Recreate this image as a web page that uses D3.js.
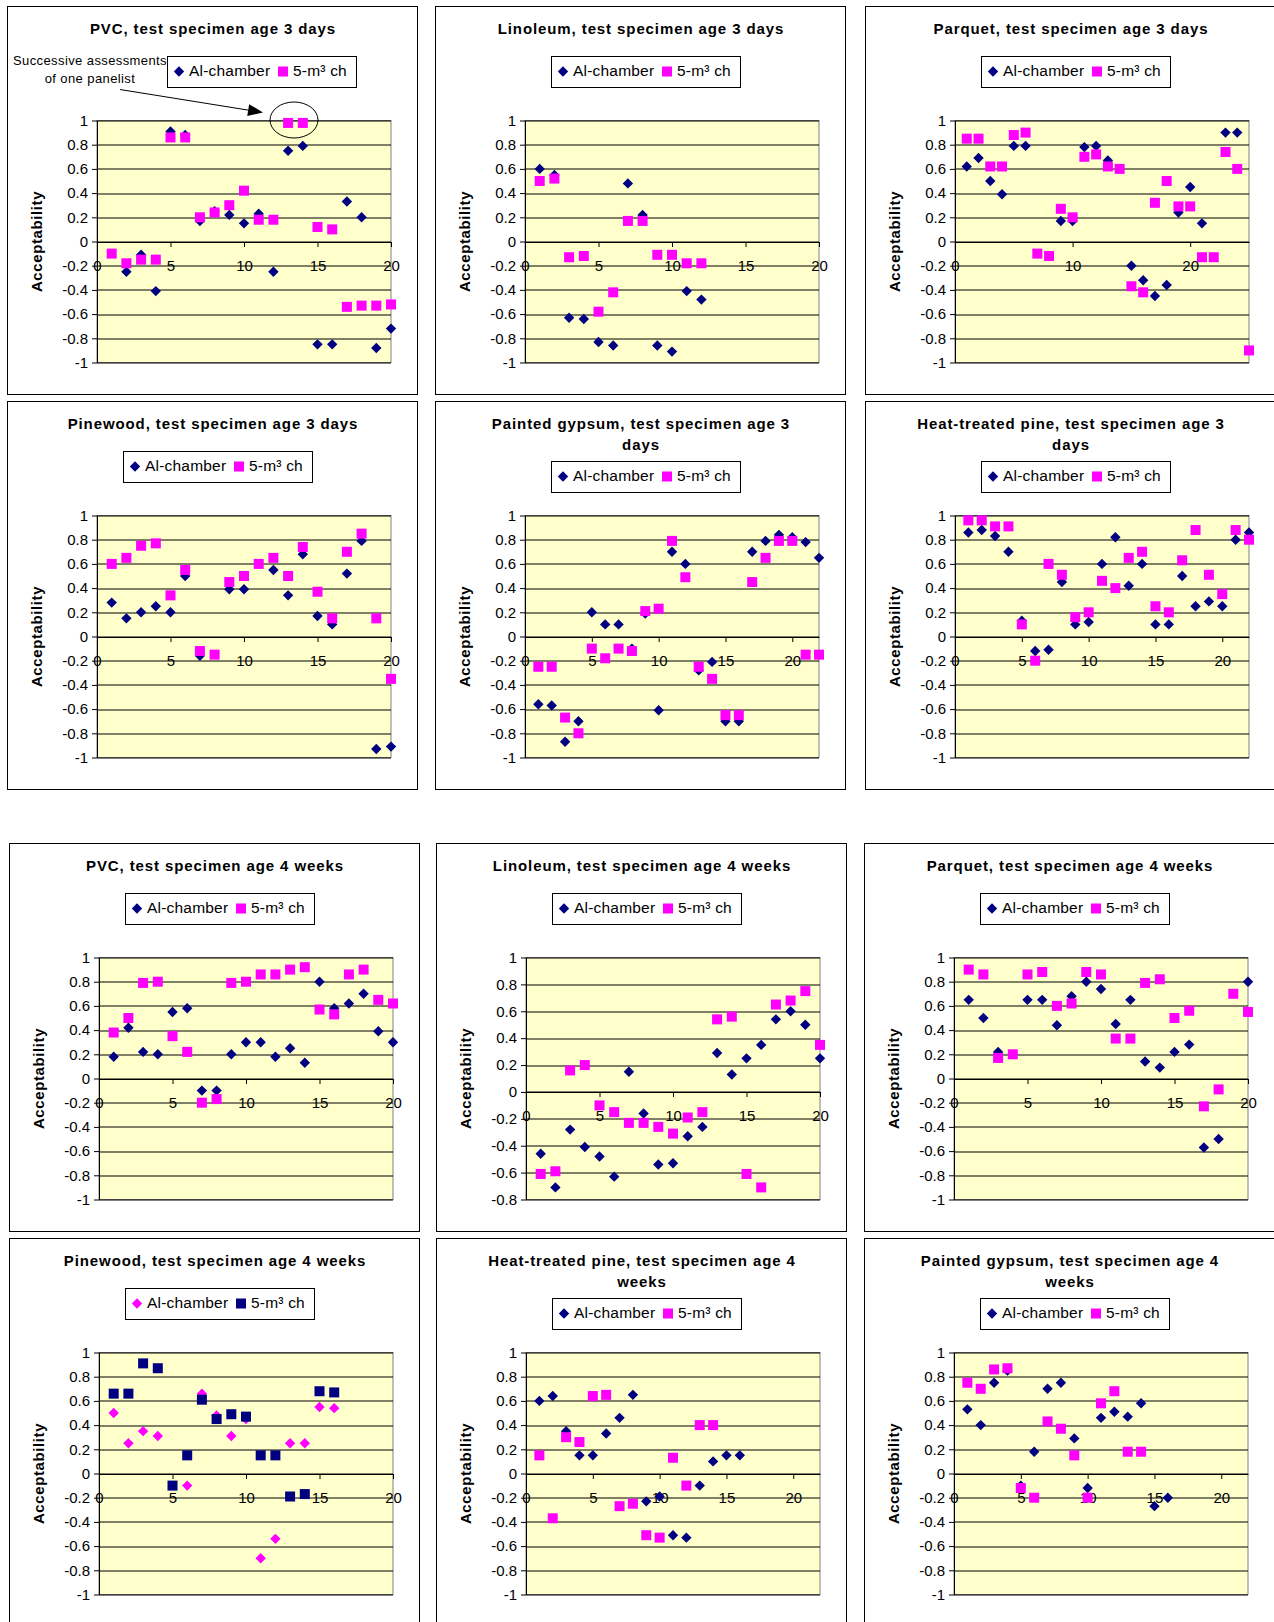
<!DOCTYPE html>
<html>
<head>
<meta charset="utf-8">
<script src="https://cdn.jsdelivr.net/npm/d3@7"></script>
<style>
  body { margin: 0; background: #fff; }
  svg { display: block; font-family: "Liberation Sans", Arial, sans-serif; }
</style>
</head>
<body>
<div id="chart"></div>
<script>
// Acceptability by panelist, two chambers, 12 small scatter charts

const seriesNames = ['Al-chamber', '5-m\u00b3 ch'];

// x ticks / y ticks
const xTicksA = [0, 5, 10, 15, 20];
const xTicksB = [0, 10, 20];
const yTicksFull = [-1, -0.8, -0.6, -0.4, -0.2, 0, 0.2, 0.4, 0.6, 0.8, 1];
const yTicksLino = [-0.8, -0.6, -0.4, -0.2, 0, 0.2, 0.4, 0.6, 0.8, 1];

// values per panelist (index 0 = panelist 1), null = not shown
const pvc3dAl = [null, -0.25, -0.11, -0.41, 0.91, 0.88, 0.17, 0.25, 0.22, 0.15, 0.23, -0.25, 0.75, 0.79, -0.85, -0.85, 0.33, 0.20, -0.88, -0.72];
const pvc3dCh = [-0.10, -0.18, -0.15, -0.15, 0.86, 0.86, 0.20, 0.24, 0.30, 0.42, 0.18, 0.18, 0.98, 0.98, 0.12, 0.10, -0.54, -0.53, -0.53, -0.52];

const lin3dAl = [0.60, 0.55, -0.63, -0.64, -0.83, -0.86, 0.48, 0.22, -0.86, -0.91, -0.41, -0.48];
const lin3dCh = [0.50, 0.52, -0.13, -0.12, -0.58, -0.42, 0.17, 0.17, -0.11, -0.11, -0.18, -0.18];

const par3dAl = [0.62, 0.69, 0.50, 0.39, 0.79, 0.79, null, null, 0.17, 0.17, 0.78, 0.79, 0.67, null, -0.20, -0.32, -0.45, -0.36, 0.24, 0.45, 0.15, null, 0.90, 0.90, null];
const par3dCh = [0.85, 0.85, 0.62, 0.62, 0.88, 0.90, -0.10, -0.12, 0.27, 0.20, 0.70, 0.72, 0.62, 0.60, -0.37, -0.42, 0.32, 0.50, 0.29, 0.29, -0.13, -0.13, 0.74, 0.60, -0.90];

const pine3dAl = [0.28, 0.15, 0.20, 0.25, 0.20, 0.50, -0.16, null, 0.39, 0.39, null, 0.55, 0.34, 0.68, 0.17, 0.10, 0.52, 0.79, -0.93, -0.91];
const pine3dCh = [0.60, 0.65, 0.75, 0.77, 0.34, 0.55, -0.12, -0.15, 0.45, 0.50, 0.60, 0.65, 0.50, 0.74, 0.37, 0.15, 0.70, 0.85, 0.15, -0.35];

const gyp3dAl = [-0.56, -0.57, -0.87, -0.70, 0.20, 0.10, 0.10, -0.10, 0.19, -0.61, 0.70, 0.60, -0.28, -0.21, -0.70, -0.70, 0.70, 0.79, 0.84, 0.82, 0.78, 0.65];
const gyp3dCh = [-0.25, -0.25, -0.67, -0.80, -0.10, -0.18, -0.10, -0.12, 0.21, 0.23, 0.79, 0.49, -0.25, -0.35, -0.65, -0.65, 0.45, 0.65, 0.79, 0.79, -0.15, -0.15];

const htp3dAl = [0.86, 0.88, 0.83, 0.70, 0.13, -0.12, -0.11, 0.45, 0.10, 0.12, 0.60, 0.82, 0.42, 0.60, 0.10, 0.10, 0.50, 0.25, 0.29, 0.25, 0.80, 0.86];
const htp3dCh = [0.96, 0.96, 0.91, 0.91, 0.10, -0.20, 0.60, 0.51, 0.16, 0.20, 0.46, 0.40, 0.65, 0.70, 0.25, 0.20, 0.63, 0.88, 0.51, 0.35, 0.88, 0.80];

const pvc4wAl = [0.18, 0.42, 0.22, 0.20, 0.55, 0.58, -0.10, -0.10, 0.20, 0.30, 0.30, 0.18, 0.25, 0.13, 0.80, 0.58, 0.62, 0.70, 0.39, 0.30];
const pvc4wCh = [0.38, 0.50, 0.79, 0.80, 0.35, 0.22, -0.20, -0.17, 0.79, 0.80, 0.86, 0.86, 0.90, 0.92, 0.57, 0.53, 0.86, 0.90, 0.65, 0.62];

const lin4wAl = [-0.46, -0.71, -0.28, -0.41, -0.48, -0.63, 0.15, -0.16, -0.54, -0.53, -0.33, -0.26, 0.29, 0.13, 0.25, 0.35, 0.54, 0.60, 0.50, 0.25];
const lin4wCh = [-0.61, -0.59, 0.16, 0.20, -0.10, -0.15, -0.23, -0.23, -0.26, -0.31, -0.19, -0.15, 0.54, 0.56, -0.61, -0.71, 0.65, 0.68, 0.75, 0.35];

const par4wAl = [0.65, 0.50, 0.22, null, 0.65, 0.65, 0.44, 0.68, 0.80, 0.74, 0.45, 0.65, 0.14, 0.09, 0.22, 0.28, -0.57, -0.50, null, 0.80];
const par4wCh = [0.90, 0.86, 0.17, 0.20, 0.86, 0.88, 0.60, 0.62, 0.88, 0.86, 0.33, 0.33, 0.79, 0.82, 0.50, 0.56, -0.23, -0.09, 0.70, 0.55];

const pine4wAl = [0.50, 0.25, 0.35, 0.31, null, -0.10, 0.66, 0.48, 0.31, 0.45, -0.70, -0.54, 0.25, 0.25, 0.55, 0.54];
const pine4wCh = [0.66, 0.66, 0.91, 0.87, -0.10, 0.15, 0.61, 0.45, 0.49, 0.47, 0.15, 0.15, -0.19, -0.17, 0.68, 0.67];

const htp4wAl = [0.60, 0.64, 0.35, 0.15, 0.15, 0.33, 0.46, 0.65, -0.23, -0.19, -0.51, -0.53, -0.10, 0.10, 0.15, 0.15];
const htp4wCh = [0.15, -0.37, 0.30, 0.26, 0.64, 0.65, -0.27, -0.25, -0.51, -0.53, 0.13, -0.10, 0.40, 0.40];

const gyp4wAl = [0.53, 0.40, 0.75, 0.85, -0.10, 0.18, 0.70, 0.75, 0.29, -0.12, 0.46, 0.51, 0.47, 0.58, -0.27, -0.20];
const gyp4wCh = [0.75, 0.70, 0.86, 0.87, -0.12, -0.20, 0.43, 0.37, 0.15, -0.20, 0.58, 0.68, 0.18, 0.18];

const panels = [
  { title: ['PVC, test specimen age 3 days'], al: pvc3dAl, ch: pvc3dCh, xMax: 20, xTicks: xTicksA, yTicks: yTicksFull, note: true },
  { title: ['Linoleum, test specimen age 3 days'], al: lin3dAl, ch: lin3dCh, xMax: 20, xTicks: xTicksA, yTicks: yTicksFull },
  { title: ['Parquet, test specimen age 3 days'], al: par3dAl, ch: par3dCh, xMax: 25, xTicks: xTicksB, yTicks: yTicksFull },
  { title: ['Pinewood, test specimen age 3 days'], al: pine3dAl, ch: pine3dCh, xMax: 20, xTicks: xTicksA, yTicks: yTicksFull },
  { title: ['Painted gypsum, test specimen age 3', 'days'], al: gyp3dAl, ch: gyp3dCh, xMax: 22, xTicks: xTicksA, yTicks: yTicksFull },
  { title: ['Heat-treated pine, test specimen age 3', 'days'], al: htp3dAl, ch: htp3dCh, xMax: 22, xTicks: xTicksA, yTicks: yTicksFull },
  { title: ['PVC, test specimen age 4 weeks'], al: pvc4wAl, ch: pvc4wCh, xMax: 20, xTicks: xTicksA, yTicks: yTicksFull },
  { title: ['Linoleum, test specimen age 4 weeks'], al: lin4wAl, ch: lin4wCh, xMax: 20, xTicks: xTicksA, yTicks: yTicksLino },
  { title: ['Parquet, test specimen age 4 weeks'], al: par4wAl, ch: par4wCh, xMax: 20, xTicks: xTicksA, yTicks: yTicksFull },
  { title: ['Pinewood, test specimen age 4 weeks'], al: pine4wAl, ch: pine4wCh, xMax: 20, xTicks: xTicksA, yTicks: yTicksFull, swap: true },
  { title: ['Heat-treated pine, test specimen age 4', 'weeks'], al: htp4wAl, ch: htp4wCh, xMax: 22, xTicks: xTicksA, yTicks: yTicksFull },
  { title: ['Painted gypsum, test specimen age 4', 'weeks'], al: gyp4wAl, ch: gyp4wCh, xMax: 22, xTicks: xTicksA, yTicks: yTicksFull }
];

// layout
const W = 1274, H = 1622;
const chartW = 410, chartH = 388;
const colX = [[7, 435, 865], [7, 435, 865], [9, 436, 864], [9, 436, 864]];
const rowY = [6, 401, 843, 1238];
const plot = { x: 90, y: 114.5, w: 294, h: 242 };
const NAVY = '#000080', MAGENTA = '#FF00FF';
const SQ = 5, DR = 5.2; // square half-size, diamond radius

const svg = d3.select('#chart').append('svg')
  .attr('width', W).attr('height', H);

svg.append('rect').attr('width', W).attr('height', H).attr('fill', '#fff');

const fmt = d => String(Math.round(d * 10) / 10);

function diamond(r) {
  return `M0,${-r}L${r},0L0,${r}L${-r},0Z`;
}

function drawMarker(g, kind, color, cx, cy) {
  if (kind === 'diamond') {
    g.append('path')
      .attr('d', diamond(DR))
      .attr('transform', `translate(${cx},${cy})`)
      .attr('fill', color);
  } else {
    g.append('rect')
      .attr('x', cx - SQ).attr('y', cy - SQ)
      .attr('width', 2 * SQ).attr('height', 2 * SQ)
      .attr('fill', color);
  }
}

panels.forEach((p, i) => {
  const row = Math.floor(i / 3), col = i % 3;
  const g = svg.append('g')
    .attr('transform', `translate(${colX[row][col]},${rowY[row]})`);

  // chart frame
  g.append('rect')
    .attr('x', 0.5).attr('y', 0.5)
    .attr('width', chartW).attr('height', chartH)
    .attr('fill', '#fff').attr('stroke', '#000').attr('stroke-width', 1);

  // title
  const twoLines = p.title.length > 1;
  p.title.forEach((line, k) => {
    g.append('text')
      .attr('x', chartW / 2 + 1)
      .attr('y', 27.5 + k * 21.5)
      .attr('text-anchor', 'middle')
      .style('font-size', '15px')
      .style('font-weight', 'bold')
      .style('letter-spacing', '0.9px')
      .text(line);
  });

  // legend
  const lx = p.note ? 160 : 116;
  const ly = twoLines ? 60 : 50;
  const legend = g.append('g').attr('transform', `translate(${lx},${ly})`);
  legend.append('rect')
    .attr('x', 0.5).attr('y', 0.5)
    .attr('width', 189).attr('height', 31)
    .attr('fill', '#fff').attr('stroke', '#000');
  const c1 = p.swap ? MAGENTA : NAVY;
  const c2 = p.swap ? NAVY : MAGENTA;
  drawMarker(legend, 'diamond', c1, 12, 15.5);
  legend.append('text')
    .attr('x', 22).attr('y', 15).attr('dy', '0.35em')
    .style('font-size', '15.5px').style('letter-spacing', '0.2px')
    .text(seriesNames[0]);
  drawMarker(legend, 'square', c2, 116, 15.5);
  legend.append('text')
    .attr('x', 126).attr('y', 15).attr('dy', '0.35em')
    .style('font-size', '15.5px').style('letter-spacing', '0.2px')
    .text(seriesNames[1]);

  // plot area
  const x = d3.scaleLinear().domain([0, p.xMax]).range([0, plot.w]);
  const y = d3.scaleLinear()
    .domain([p.yTicks[0], p.yTicks[p.yTicks.length - 1]])
    .range([plot.h, 0]);

  const pg = g.append('g').attr('transform', `translate(${plot.x},${plot.y})`);
  pg.append('rect')
    .attr('width', plot.w).attr('height', plot.h)
    .attr('fill', '#FFFFCC').attr('stroke', '#808080');

  // gridlines
  pg.selectAll('.grid')
    .data(p.yTicks)
    .enter().append('line')
    .attr('x1', 0).attr('x2', plot.w)
    .attr('y1', d => Math.round(y(d)) + 0.5)
    .attr('y2', d => Math.round(y(d)) + 0.5)
    .attr('stroke', '#000').attr('stroke-width', 1);

  // y axis
  const yAxis = pg.append('g')
    .call(d3.axisLeft(y).tickValues(p.yTicks).tickFormat(fmt).tickSize(5).tickSizeOuter(0).tickPadding(4));
  yAxis.select('.domain').attr('stroke', '#000');
  yAxis.selectAll('.tick line').attr('stroke', '#000');
  yAxis.selectAll('text')
    .style('font-size', '15px')
    .style('font-family', '"Liberation Sans", Arial, sans-serif')
    .attr('fill', '#000');

  // x axis crossing at 0
  const xAxis = pg.append('g')
    .attr('transform', `translate(0,${Math.round(y(0)) + 0.5})`)
    .call(d3.axisBottom(x).tickValues(p.xTicks).tickFormat(d3.format('d')).tickSize(5).tickSizeOuter(0).tickPadding(13));
  xAxis.select('.domain').attr('stroke', '#000');
  xAxis.selectAll('.tick line').attr('stroke', '#000');
  xAxis.selectAll('text')
    .style('font-size', '15px')
    .style('font-family', '"Liberation Sans", Arial, sans-serif')
    .attr('fill', '#000');

  // axis title
  g.append('text')
    .attr('transform', `translate(35,${plot.y + plot.h / 2}) rotate(-90)`)
    .attr('text-anchor', 'middle')
    .style('font-size', '15px')
    .style('font-weight', 'bold')
    .style('letter-spacing', '0.6px')
    .text('Acceptability');

  // series 1 diamonds, then series 2 squares on top
  const alPts = p.al.map((v, k) => ({ n: k + 1, v })).filter(d => d.v !== null);
  const chPts = p.ch.map((v, k) => ({ n: k + 1, v })).filter(d => d.v !== null);

  pg.selectAll('.al')
    .data(alPts)
    .enter().append('path')
    .attr('class', 'al')
    .attr('d', diamond(DR))
    .attr('transform', d => `translate(${x(d.n)},${y(d.v)})`)
    .attr('fill', c1);

  pg.selectAll('.ch')
    .data(chPts)
    .enter().append('rect')
    .attr('class', 'ch')
    .attr('x', d => x(d.n) - SQ)
    .attr('y', d => y(d.v) - SQ)
    .attr('width', 2 * SQ).attr('height', 2 * SQ)
    .attr('fill', c2);

  // annotation on the first chart
  if (p.note) {
    g.append('text')
      .attr('x', 83).attr('y', 58.5)
      .attr('text-anchor', 'middle')
      .style('font-size', '13px').style('letter-spacing', '0.4px')
      .text('Successive assessments');
    g.append('text')
      .attr('x', 83).attr('y', 76.5)
      .attr('text-anchor', 'middle')
      .style('font-size', '13px').style('letter-spacing', '0.4px')
      .text('of one panelist');

    const x0 = 113, y0 = 83.5, x1 = 256, y1 = 106.5;
    const ang = Math.atan2(y1 - y0, x1 - x0);
    const hl = 15, hw = 6;
    g.append('line')
      .attr('x1', x0).attr('y1', y0)
      .attr('x2', x1 - hl * Math.cos(ang)).attr('y2', y1 - hl * Math.sin(ang))
      .attr('stroke', '#000').attr('stroke-width', 1);
    const bx = x1 - hl * Math.cos(ang), by = y1 - hl * Math.sin(ang);
    g.append('path')
      .attr('d', `M${x1},${y1}L${bx - hw * Math.sin(ang)},${by + hw * Math.cos(ang)}L${bx + hw * Math.sin(ang)},${by - hw * Math.cos(ang)}Z`)
      .attr('fill', '#000');

    g.append('ellipse')
      .attr('cx', 287).attr('cy', 114)
      .attr('rx', 24).attr('ry', 18)
      .attr('fill', 'none').attr('stroke', '#000').attr('stroke-width', 1);
  }
});
</script>
</body>
</html>
